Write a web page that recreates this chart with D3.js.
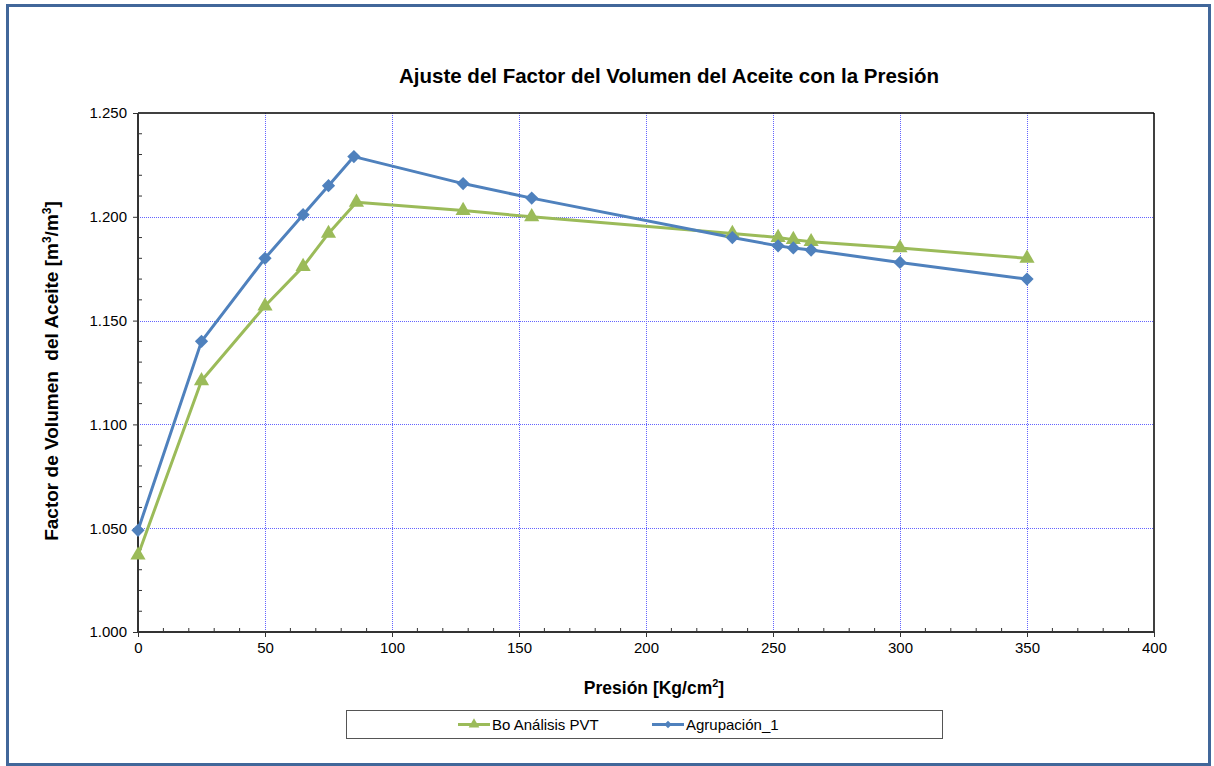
<!DOCTYPE html>
<html>
<head>
<meta charset="utf-8">
<script src="https://cdn.jsdelivr.net/npm/d3@7"></script>
<style>
  html, body { margin: 0; padding: 0; background: #ffffff; }
  svg { display: block; font-family: "Liberation Sans", Arial, sans-serif; }
</style>
</head>
<body>
<svg id="chart" width="1214" height="766"></svg>
<script>
// Pressure values (Kg/cm²) for each series
const pvtPressure = [0, 25, 50, 65, 75, 86, 128, 155, 234, 252, 258, 265, 300, 350];
const pvtBo       = [1.037, 1.121, 1.157, 1.176, 1.192, 1.207, 1.203, 1.200, 1.192, 1.190, 1.189, 1.188, 1.185, 1.180];

const grpPressure = [0, 25, 50, 65, 75, 85, 128, 155, 234, 252, 258, 265, 300, 350];
const grpBo       = [1.049, 1.140, 1.180, 1.201, 1.215, 1.229, 1.216, 1.209, 1.190, 1.186, 1.185, 1.184, 1.178, 1.170];

const seriesNames = ["Bo Análisis PVT", "Agrupación_1"];
const xTicks = [0, 50, 100, 150, 200, 250, 300, 350, 400];
const yTicks = [1.000, 1.050, 1.100, 1.150, 1.200, 1.250];

const GREEN = "#9bbb59";
const BLUE = "#4f81bd";
const GRID = "#6363ff";

const svg = d3.select("#chart");

// Outer frame
svg.append("rect")
  .attr("x", 7.5).attr("y", 5.5)
  .attr("width", 1202).attr("height", 759)
  .attr("fill", "none")
  .attr("stroke", "#41679a")
  .attr("stroke-width", 3);

const plot = { left: 138, top: 113, right: 1154, bottom: 632 };

const x = d3.scaleLinear().domain([0, 400]).range([plot.left, plot.right]);
const y = d3.scaleLinear().domain([1.0, 1.25]).range([plot.bottom, plot.top]);

// Title
svg.append("text")
  .attr("x", 669).attr("y", 83)
  .attr("text-anchor", "middle")
  .attr("font-size", 20.5).attr("font-weight", "bold")
  .attr("fill", "#000")
  .text("Ajuste del Factor del Volumen del Aceite con la Presión");

// Gridlines (dotted blue)
const grid = svg.append("g");
grid.selectAll("line.vg")
  .data(xTicks.filter(d => d > 0 && d < 400))
  .join("line")
  .attr("x1", d => Math.round(x(d)) + 0.5).attr("x2", d => Math.round(x(d)) + 0.5)
  .attr("y1", plot.top).attr("y2", plot.bottom)
  .attr("stroke", GRID).attr("stroke-width", 1)
  .attr("stroke-dasharray", "1,1");
grid.selectAll("line.hg")
  .data(yTicks.filter(d => d > 1.0 && d < 1.25))
  .join("line")
  .attr("y1", d => Math.round(y(d)) + 0.5).attr("y2", d => Math.round(y(d)) + 0.5)
  .attr("x1", plot.left).attr("x2", plot.right)
  .attr("stroke", GRID).attr("stroke-width", 1)
  .attr("stroke-dasharray", "1,1");

// Top and right plot borders
svg.append("line")
  .attr("x1", plot.left).attr("x2", plot.right)
  .attr("y1", plot.top).attr("y2", plot.top)
  .attr("stroke", "#000").attr("stroke-width", 1.5);
svg.append("line")
  .attr("x1", plot.right).attr("x2", plot.right)
  .attr("y1", plot.top).attr("y2", plot.bottom)
  .attr("stroke", "#000").attr("stroke-width", 1.5);

// Minor ticks (inside) on both axes
const xMinor = d3.range(0, 401, 10).filter(d => d % 50 !== 0);
svg.append("g").selectAll("line")
  .data(xMinor).join("line")
  .attr("x1", d => x(d)).attr("x2", d => x(d))
  .attr("y1", plot.bottom).attr("y2", plot.bottom - 4)
  .attr("stroke", "#333").attr("stroke-width", 1);
const yMinor = d3.range(0, 26).map(i => 1.0 + i * 0.01).filter((d, i) => i % 5 !== 0);
svg.append("g").selectAll("line")
  .data(yMinor).join("line")
  .attr("y1", d => y(d)).attr("y2", d => y(d))
  .attr("x1", plot.left).attr("x2", plot.left + 4)
  .attr("stroke", "#333").attr("stroke-width", 1);

// Axes
const xAxis = d3.axisBottom(x).tickValues(xTicks).tickFormat(d3.format("d")).tickSize(5).tickPadding(5);
const yAxis = d3.axisLeft(y).tickValues(yTicks).tickFormat(d3.format(".3f")).tickSize(5).tickPadding(6);

const gx = svg.append("g").attr("transform", `translate(0,${plot.bottom})`).call(xAxis);
const gy = svg.append("g").attr("transform", `translate(${plot.left},0)`).call(yAxis);
[gx, gy].forEach(g => {
  g.select(".domain").attr("stroke", "#333").attr("stroke-width", 2);
  g.selectAll(".tick line").attr("stroke", "#333").attr("stroke-width", 1);
  g.selectAll(".tick text")
    .attr("font-family", "'Liberation Sans', Arial, sans-serif")
    .attr("font-size", 15).attr("fill", "#000");
});
gx.select(".domain").attr("d", `M${plot.left},0H${plot.right}`);
gy.select(".domain").attr("d", `M0,${plot.bottom}V${plot.top}`);

// Axis titles
const xt = svg.append("text")
  .attr("x", 654).attr("y", 694)
  .attr("text-anchor", "middle")
  .attr("font-size", 17.5).attr("font-weight", "bold");
xt.append("tspan").text("Presión [Kg/cm");
xt.append("tspan").attr("font-size", 11).attr("dy", -7).text("2");
xt.append("tspan").attr("dy", 7).text("]");

const yt = svg.append("text")
  .attr("transform", "translate(58,371) rotate(-90)")
  .attr("text-anchor", "middle")
  .attr("font-size", 19).attr("font-weight", "bold")
  .attr("xml:space", "preserve");
yt.append("tspan").text("Factor de Volumen  del Aceite [m");
yt.append("tspan").attr("font-size", 12).attr("dy", -7).text("3");
yt.append("tspan").attr("dy", 7).text("/m");
yt.append("tspan").attr("font-size", 12).attr("dy", -7).text("3");
yt.append("tspan").attr("dy", 7).text("]");

// Series
const pvtData = pvtPressure.map((p, i) => ({ x: p, y: pvtBo[i] }));
const grpData = grpPressure.map((p, i) => ({ x: p, y: grpBo[i] }));

const line = d3.line().x(d => x(d.x)).y(d => y(d.y));

svg.append("path").datum(pvtData)
  .attr("d", line).attr("fill", "none")
  .attr("stroke", GREEN).attr("stroke-width", 3)
  .attr("stroke-linejoin", "round");
svg.append("path").datum(grpData)
  .attr("d", line).attr("fill", "none")
  .attr("stroke", BLUE).attr("stroke-width", 3)
  .attr("stroke-linejoin", "round");

const triangle = d3.symbol().type(d3.symbolTriangle).size(100);
const diamond = d3.symbol().type(d3.symbolSquare).size(88);

svg.append("g").selectAll("path")
  .data(pvtData).join("path")
  .attr("d", triangle)
  .attr("transform", d => `translate(${x(d.x)},${y(d.y)})`)
  .attr("fill", GREEN);

svg.append("g").selectAll("path")
  .data(grpData).join("path")
  .attr("d", diamond)
  .attr("transform", d => `translate(${x(d.x)},${y(d.y)}) rotate(45)`)
  .attr("fill", BLUE);

// Legend
const legend = svg.append("g");
legend.append("rect")
  .attr("x", 346.5).attr("y", 710.5)
  .attr("width", 596).attr("height", 28)
  .attr("fill", "#fff").attr("stroke", "#555").attr("stroke-width", 1);

const legendItems = [
  { name: seriesNames[0], color: GREEN, sym: d3.symbol().type(d3.symbolTriangle).size(50), rot: 0, x0: 458, x1: 490 },
  { name: seriesNames[1], color: BLUE, sym: d3.symbol().type(d3.symbolSquare).size(28), rot: 45, x0: 652, x1: 684 }
];
const ly = 724.5;
legendItems.forEach(it => {
  legend.append("line")
    .attr("x1", it.x0).attr("x2", it.x1)
    .attr("y1", ly).attr("y2", ly)
    .attr("stroke", it.color).attr("stroke-width", 3);
  legend.append("path")
    .attr("d", it.sym())
    .attr("transform", `translate(${(it.x0 + it.x1) / 2},${ly}) rotate(${it.rot})`)
    .attr("fill", it.color);
  legend.append("text")
    .attr("x", it.x1 + 2).attr("y", ly + 5)
    .attr("font-size", 15).attr("fill", "#000")
    .text(it.name);
});
</script>
</body>
</html>
